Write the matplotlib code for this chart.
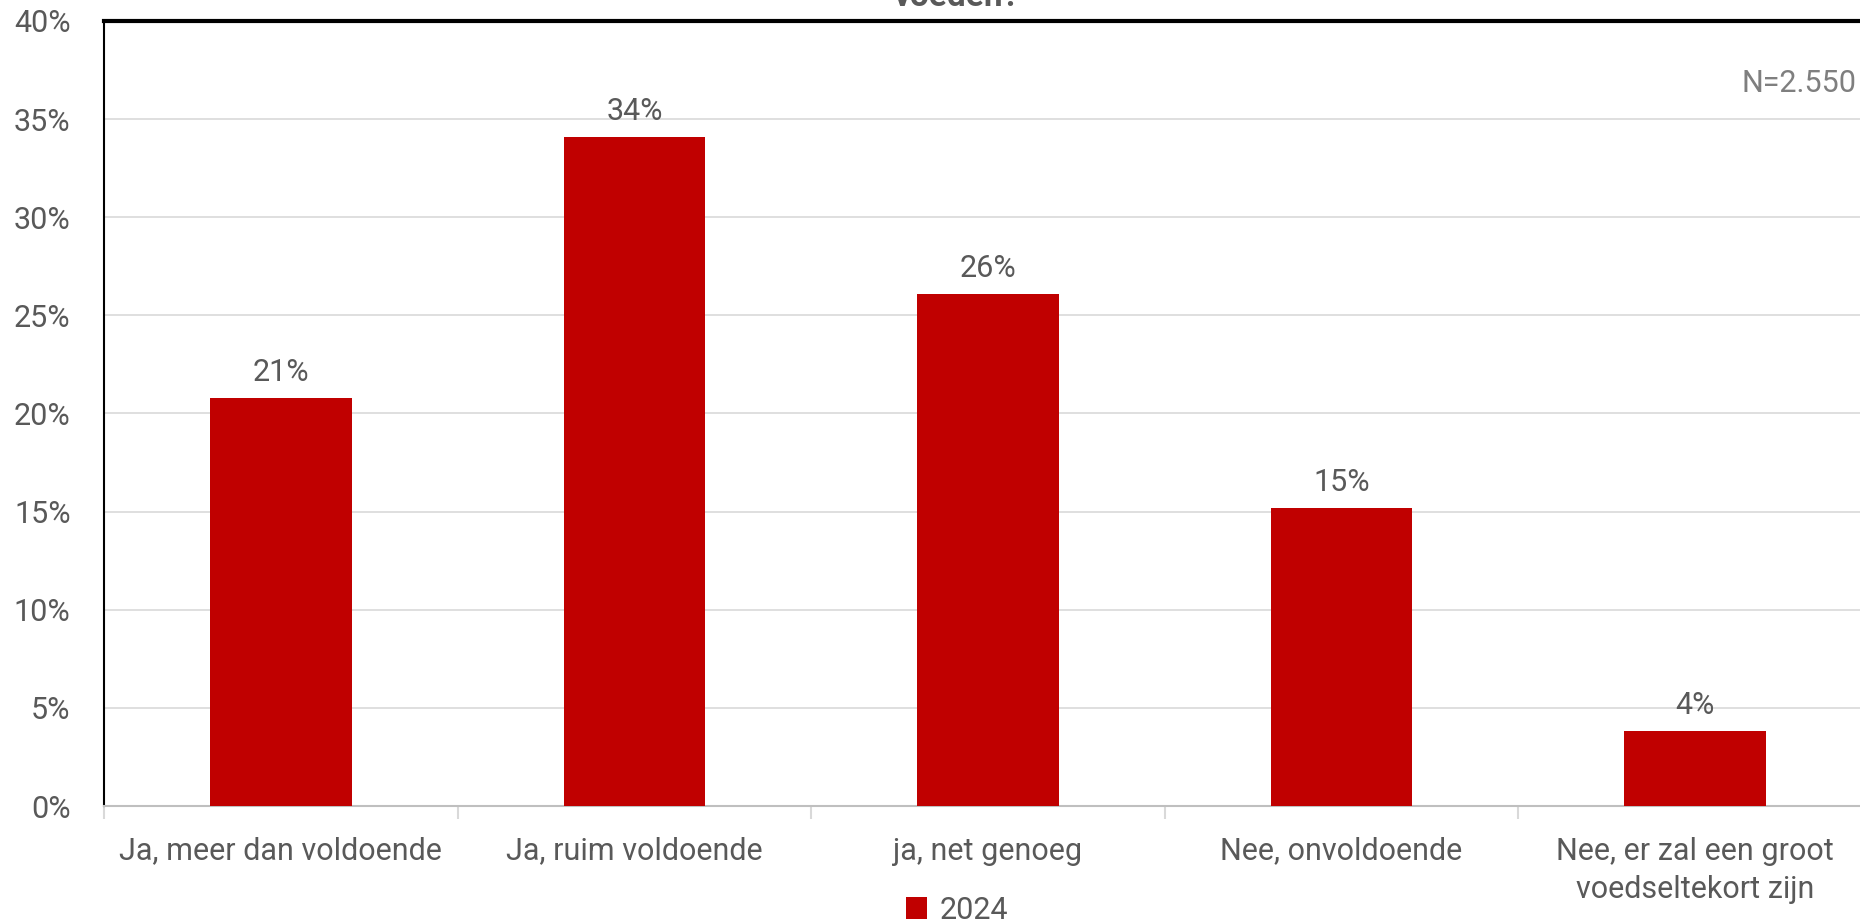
import matplotlib
matplotlib.use('Agg')
import matplotlib.pyplot as plt
import numpy as np

# Data
categories = ['Ja, meer dan voldoende', 'Ja, ruim voldoende', 'ja, net genoeg',
              'Nee, onvoldoende', 'Nee, er zal een groot\nvoedseltekort zijn']
values_2024 = [20.8, 34.1, 26.1, 15.2, 3.8]
labels_2024 = ['21%', '34%', '26%', '15%', '4%']
yticks = [0, 5, 10, 15, 20, 25, 30, 35, 40]

plt.rcParams['font.family'] = ['Roboto', 'DejaVu Sans']
txt = '#595959'
red = '#C00000'

fig = plt.figure(figsize=(18.6, 9.22), dpi=100)
ax = fig.add_axes([104 / 1860, 1 - 806 / 922, 1768 / 1860, 785 / 922])

x = np.arange(len(categories))
bars = ax.bar(x, values_2024, width=0.4, color=red, label='2024', zorder=3)

# value labels above the bars
for b, lab in zip(bars, labels_2024):
    ax.annotate(lab, (b.get_x() + b.get_width() / 2, b.get_height()),
                xytext=(0, 8), textcoords='offset points',
                ha='center', va='bottom', fontsize=22, color=txt)

ax.set_xlim(-0.5, len(categories) - 0.5)
ax.set_ylim(0, 40)
ax.set_yticks(yticks)
ax.set_yticklabels([f'{t}%' for t in yticks], fontsize=22, color=txt)
ax.set_xticks(x)
ax.set_xticklabels(categories, fontsize=22, color=txt, linespacing=1.4)
ax.set_xticks(np.arange(-0.5, len(categories)), minor=True)
ax.tick_params(axis='x', which='major', length=0, pad=22)
ax.tick_params(axis='x', which='minor', length=9, width=1.5, color='#d9d9d9')
ax.tick_params(axis='y', length=0, pad=24)

ax.grid(axis='y', color='#d9d9d9', linewidth=1.2, zorder=0)
ax.spines['right'].set_visible(False)
ax.spines['top'].set_color('black')
ax.spines['top'].set_linewidth(3)
ax.spines['left'].set_color('black')
ax.spines['left'].set_linewidth(1.5)
ax.spines['bottom'].set_color('#bfbfbf')
ax.spines['bottom'].set_linewidth(1.5)

# sample size note
fig.text(1856 / 1860, 1 - 83 / 922, 'N=2.550', ha='right', va='center',
         fontsize=22, color='#7f7f7f')

# title, mostly cut off at the top edge (as in the reference)
fig.text(957 / 1860, 1 - 6 / 922, 'voeden?', ha='center', va='baseline',
         fontsize=24, fontweight='bold', color=txt)

leg = fig.legend(loc='center', bbox_to_anchor=(957 / 1860, 1 - 910 / 922),
                 frameon=False, fontsize=22, handlelength=0.7, handleheight=0.7,
                 handletextpad=0.4, labelcolor=txt)

fig.savefig('out.png', dpi=100)
